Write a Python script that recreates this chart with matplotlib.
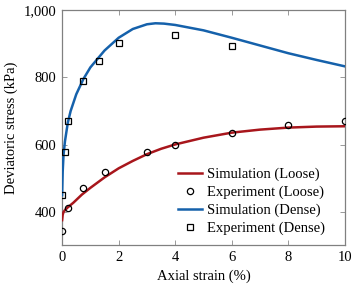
import matplotlib.pyplot as plt
import numpy as np

plt.rcParams['font.family'] = ['Liberation Serif', 'DejaVu Serif']

# simulation curves
sim_x_loose = [0, 0.02, 0.05, 0.1, 0.2, 0.4, 0.7, 1.0, 1.5, 2.0, 2.5, 3.0, 3.5, 4.0, 5.0, 6.0, 7.0, 8.0, 9.0, 10.0]
sim_y_loose = [376, 392, 400, 406, 414, 428, 452, 472, 503, 530, 552, 572, 588, 601, 621, 636, 645, 651, 654, 655]

sim_x_dense = [0, 0.02, 0.05, 0.1, 0.2, 0.3, 0.5, 0.75, 1.0, 1.5, 2.0, 2.5, 3.0, 3.3, 3.6, 4.0, 5.0, 6.0, 7.0, 8.0, 9.0, 10.0]
sim_y_dense = [450, 520, 570, 610, 665, 700, 750, 795, 830, 880, 918, 944, 958, 961, 960, 956, 940, 918, 895, 872, 852, 833]

# experiments
exp_x_loose = [0, 0.2, 0.75, 1.5, 3, 4, 6, 8, 10]
exp_y_loose = [344, 413, 472, 518, 578, 600, 636, 659, 672]

exp_x_dense = [0, 0.1, 0.2, 0.75, 1.3, 2, 4, 6]
exp_y_dense = [450, 578, 672, 790, 850, 903, 927, 893]

red = '#a8161c'
blue = '#1561ab'

fig = plt.figure(figsize=(3.57, 2.90), dpi=100)
ax = fig.add_axes([0.174, 0.155, 0.792, 0.81])

ax.plot(sim_x_loose, sim_y_loose, color=red, lw=1.8, label='Simulation (Loose)', zorder=3)
ax.plot(exp_x_loose, exp_y_loose, 'o', mfc='none', mec='black', mew=0.9, ms=4.5,
        label='Experiment (Loose)', zorder=4)
ax.plot(sim_x_dense, sim_y_dense, color=blue, lw=1.8, label='Simulation (Dense)', zorder=3)
ax.plot(exp_x_dense, exp_y_dense, 's', mfc='none', mec='black', mew=0.9, ms=4.5,
        label='Experiment (Dense)', zorder=4)

ax.set_xlim(0, 10)
ax.set_ylim(302, 1000)
ax.set_xticks([0, 2, 4, 6, 8, 10])
ax.set_yticks([400, 600, 800, 1000])
ax.set_yticklabels(['400', '600', '800', '1,000'])
ax.tick_params(direction='in', top=True, right=True, length=3.5, width=0.7,
               color='#999999', labelsize=10.5, pad=4)
for s in ax.spines.values():
    s.set_color('#808080')
    s.set_linewidth(0.9)

ax.set_xlabel('Axial strain (%)', fontsize=10.5)
ax.set_ylabel('Deviatoric stress (kPa)', fontsize=10.5)

leg = ax.legend(loc='lower right', bbox_to_anchor=(0.965, 0.0), frameon=False,
                fontsize=10.5, handlelength=1.65, handletextpad=0.3,
                labelspacing=0.3, borderaxespad=0.3)

fig.savefig('out.png', dpi=100)
